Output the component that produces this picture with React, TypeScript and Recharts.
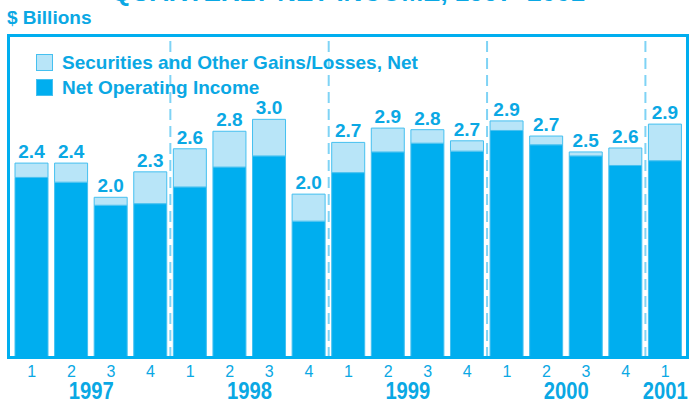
import { BarChart, Bar, XAxis, YAxis, ReferenceLine, LabelList } from "recharts";

const years = ["1997", "1997", "1997", "1997", "1998", "1998", "1998", "1998", "1999", "1999", "1999", "1999", "2000", "2000", "2000", "2000", "2001"];
const quarters = ["1", "2", "3", "4", "1", "2", "3", "4", "1", "2", "3", "4", "1", "2", "3", "4", "1"];
const operatingIncome = [2.27, 2.21, 1.92, 1.94, 2.15, 2.4, 2.54, 1.72, 2.33, 2.59, 2.7, 2.6, 2.86, 2.68, 2.54, 2.42, 2.48];
const securitiesGains = [0.18, 0.24, 0.1, 0.4, 0.48, 0.45, 0.46, 0.34, 0.38, 0.3, 0.17, 0.13, 0.12, 0.11, 0.05, 0.22, 0.46];
const totalLabels = ["2.4", "2.4", "2.0", "2.3", "2.6", "2.8", "3.0", "2.0", "2.7", "2.9", "2.8", "2.7", "2.9", "2.7", "2.5", "2.6", "2.9"];

const CYAN = "#00AEEF";
const LIGHT = "#B8E5F8";
const EDGE = "#45C0F0";
const TEXT = "#0AA8E4";
const FONT = '"Liberation Sans", Arial, sans-serif';

const data = years.map((y, i) => ({
  id: `${y}-Q${quarters[i]}`,
  operating: operatingIncome[i],
  gains: securitiesGains[i],
}));

// group quarters by year: year label sits in the middle of its group,
// dashed separator at the first quarter of each new year
const yearGroups: { year: string; start: number; count: number }[] = [];
years.forEach((y, i) => {
  const last = yearGroups[yearGroups.length - 1];
  if (last && last.year === y) last.count += 1;
  else yearGroups.push({ year: y, start: i, count: 1 });
});
const separators = yearGroups.slice(1).map((g) => data[g.start].id);

const YearTick = (props: any) => {
  const { x, y, payload, index } = props;
  const g = yearGroups.find((grp) => grp.start + Math.ceil(grp.count / 2) - 1 === index);
  if (!g) return null;
  const shift = g.count % 2 === 0 ? payload?.offset ?? 0 : 0;
  // condensed look of the original year labels
  return (
    <text
      x={x + shift}
      y={y}
      dy="0.71em"
      textAnchor="middle"
      fill={TEXT}
      fontSize={23}
      fontWeight="bold"
      fontFamily={FONT}
      textLength={45}
      lengthAdjust="spacingAndGlyphs"
    >
      {g.year}
    </text>
  );
};

const renderTotal = (props: any) => {
  const { x, y, width, index } = props;
  return (
    <text
      x={x + width / 2}
      y={y - 5}
      textAnchor="middle"
      fill={TEXT}
      fontSize={19}
      fontWeight="bold"
      fontFamily={FONT}
    >
      {totalLabels[index]}
    </text>
  );
};

const legendItems = [
  { label: "Securities and Other Gains/Losses, Net", color: LIGHT },
  { label: "Net Operating Income", color: CYAN },
];

export default function App() {
  return (
    <div
      style={{
        position: "absolute",
        left: 0,
        top: 0,
        width: 691,
        height: 402,
        overflow: "hidden",
        background: "#fff",
        fontFamily: FONT,
      }}
    >
      <div
        style={{
          position: "absolute",
          left: 48,
          top: -21,
          width: 600,
          textAlign: "center",
          fontSize: 26,
          lineHeight: "26px",
          fontWeight: "bold",
          color: TEXT,
          whiteSpace: "nowrap",
        }}
      >
        QUARTERLY NET INCOME, 1997–2001
      </div>
      <div
        style={{
          position: "absolute",
          left: 7,
          top: 8,
          fontSize: 19,
          lineHeight: "20px",
          fontWeight: "bold",
          color: TEXT,
        }}
      >
        $ Billions
      </div>
      <BarChart
        width={691}
        height={402}
        data={data}
        margin={{ top: 35, right: 3, bottom: 0, left: 8 }}
      >
        <XAxis
          dataKey="id"
          height={17}
          padding={{ left: 4, right: 3 }}
          axisLine={false}
          tickLine={false}
          interval={0}
          tickFormatter={(_v: string, i: number) => quarters[i]}
          tick={{ fill: TEXT, fontSize: 16, fontFamily: FONT }}
        />
        <XAxis
          xAxisId="yr"
          dataKey="id"
          height={27}
          padding={{ left: 4, right: 3 }}
          axisLine={false}
          tickLine={false}
          interval={0}
          tick={<YearTick />}
        />
        <YAxis width={0} domain={[0, 4.06]} tick={false} tickLine={false} axisLine={false} />
        <Bar
          dataKey="operating"
          stackId="a"
          fill={CYAN}
          stroke={EDGE}
          strokeWidth={1}
          barSize={33}
          isAnimationActive={false}
        />
        <Bar
          dataKey="gains"
          stackId="a"
          fill={LIGHT}
          stroke={EDGE}
          strokeWidth={1}
          barSize={33}
          isAnimationActive={false}
        >
          <LabelList dataKey="gains" content={renderTotal} />
        </Bar>
        {separators.map((s) => (
          <ReferenceLine
            key={s}
            x={s}
            position="start"
            stroke="#7FD3F5"
            strokeWidth={2}
            strokeDasharray="11 6"
          />
        ))}
      </BarChart>
      {/* plot frame */}
      <div
        style={{
          position: "absolute",
          left: 7,
          top: 34,
          width: 682,
          height: 325,
          border: `3px solid ${CYAN}`,
          boxSizing: "border-box",
          pointerEvents: "none",
        }}
      />
      <div style={{ position: "absolute", left: 36, top: 50 }}>
        {legendItems.map((item) => (
          <div
            key={item.label}
            style={{ display: "flex", alignItems: "center", height: 25 }}
          >
            <div
              style={{
                width: 15,
                height: 15,
                background: item.color,
                border: `1px solid ${EDGE}`,
                marginRight: 9,
              }}
            />
            <span
              style={{
                fontSize: 19,
                fontWeight: "bold",
                color: TEXT,
                whiteSpace: "nowrap",
              }}
            >
              {item.label}
            </span>
          </div>
        ))}
      </div>
    </div>
  );
}
